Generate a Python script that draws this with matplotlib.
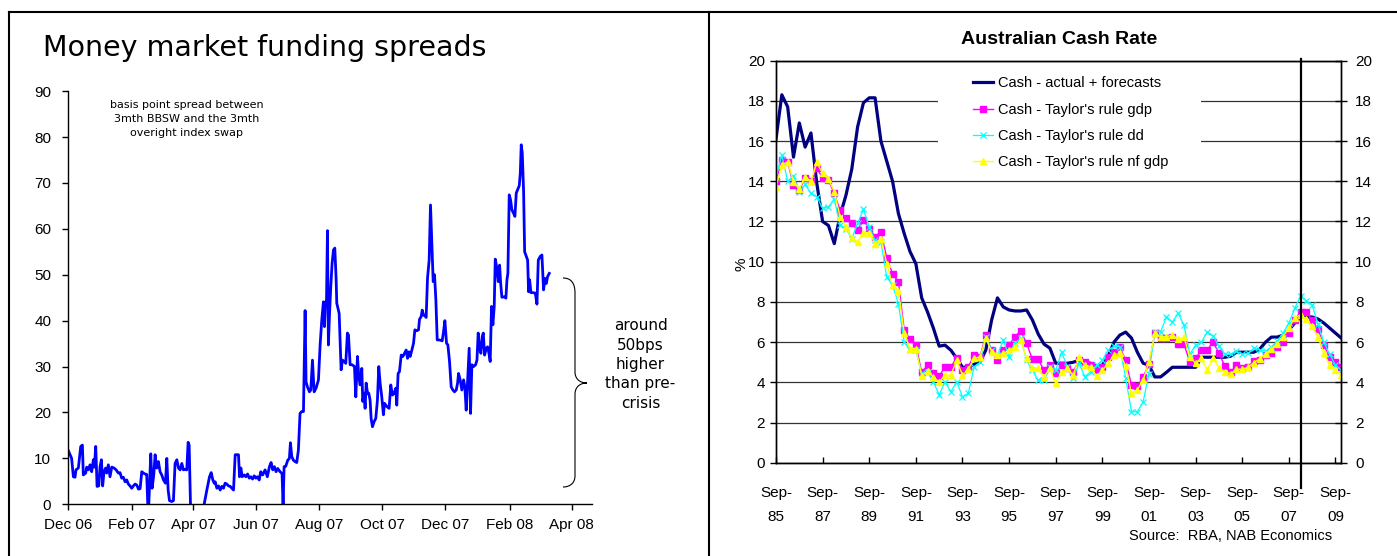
import numpy as np
import pandas as pd
import matplotlib
matplotlib.use("Agg")
import matplotlib.pyplot as plt
from matplotlib import font_manager
from matplotlib.patches import Rectangle, PathPatch
from matplotlib.path import Path
from matplotlib.lines import Line2D

# ---------------- Money market funding spreads (bps) ----------------
spread_start = "2006-12-01"
spread_day = [
    0.4, 3.6, 5.3, 6.9, 7.8, 10.1, 12.4, 14.0, 14.9, 17.2, 18.2, 19.8, 21.4, 23.0, 24.6,
    25.6, 26.9, 28.2, 29.8, 31.1, 32.4, 33.6, 34.9, 36.5, 37.5, 39.1, 40.7, 42.4, 44.6,
    46.6, 48.8, 50.4, 52.0, 53.6, 55.3, 56.9, 58.5, 60.1, 61.7, 63.3, 64.9, 66.6, 68.2,
    69.8, 71.4, 73.0, 74.6, 76.2, 77.2, 78.2, 80.1, 81.4, 83.0, 84.3, 85.9, 87.5, 89.1,
    90.7, 92.4, 94.3, 95.6, 96.9, 98.2, 100.4, 102.0, 103.6, 105.3, 106.9, 108.5, 110.1,
    111.7, 113.3, 114.9, 116.2, 117.2, 118.5, 125.0, 131.7, 134.3, 136.9, 138.5, 140.1,
    141.4, 142.4, 144.0, 145.6, 147.2, 148.8, 150.4, 152.0, 153.6, 155.3, 156.9, 158.5,
    160.1, 161.7, 164.9, 165.9, 167.2, 168.5, 170.5, 172.1, 173.7, 175.3, 176.9, 178.5,
    180.1, 181.7, 183.3, 184.9, 186.4, 188.3, 190.6, 192.8, 194.8, 196.4, 198.0, 199.6,
    201.2, 202.8, 205.1, 207.0, 208.0, 209.0, 210.6, 212.5, 214.1, 215.1, 216.4, 218.0,
    219.6, 221.2, 222.8, 224.4, 226.0, 227.7, 229.3, 230.2, 231.5, 233.5, 234.8, 236.4,
    238.0, 239.9, 242.2, 243.8, 245.4, 247.0, 248.0, 249.0, 249.9, 250.9, 251.8, 252.8,
    254.1, 255.4, 256.7, 258.0, 259.3, 259.9, 262.2, 264.1, 265.4, 267.3, 268.6, 270.2,
    271.2, 272.8, 274.7, 277.0, 278.3, 279.9, 281.2, 282.5, 284.1, 285.0, 286.3, 287.3,
    288.3, 289.6, 290.8, 292.1, 293.1, 294.4, 296.0, 297.6, 299.2, 300.5, 301.8, 303.4,
    305.0, 306.0, 308.3, 310.5, 312.1, 313.7, 315.4, 317.0, 317.9, 319.2, 320.5, 322.2,
    323.8, 325.4, 327.0, 328.3, 329.6, 330.9, 332.5, 334.1, 335.4, 337.3, 338.9, 339.9,
    341.5, 342.5, 343.8, 345.4, 346.3, 347.6, 349.2, 350.5, 351.8, 353.1, 354.4, 355.7,
    357.0, 359.2, 361.8, 363.1, 364.4, 366.0, 367.3, 368.9, 370.5, 372.1, 373.7, 375.4,
    376.7, 377.6, 379.2, 380.8, 382.5, 383.7, 385.0, 386.3, 387.9, 389.2, 390.5, 392.1,
    394.1, 395.4, 396.6, 397.9, 399.2, 400.5, 401.5, 402.8, 404.4, 405.7, 407.0, 408.2,
    409.5, 410.8, 412.1, 413.1, 414.7, 416.0, 417.3, 418.2, 419.5, 421.8, 423.4, 424.4,
    425.3, 426.6, 427.9, 429.2, 430.8, 432.1, 433.4, 434.7, 436.3, 437.3, 438.2, 439.2,
    440.5, 441.5, 443.1, 444.4, 445.3, 446.3, 447.6, 449.5, 451.8, 453.4, 454.7, 456.6,
    458.2, 459.8, 461.1, 462.4, 463.7, 465.3,
]
spread_bps = [
    11.7, 10.0, 6.0, 5.9, 7.5, 7.9, 12.6, 12.9, 6.4, 6.8, 8.1, 7.5, 8.6, 7.1, 9.7,
    8.1, 12.6, 3.9, 4.0, 8.2, 9.7, 4.0, 7.1, 7.9, 6.8, 8.6, 6.0, 8.1, 7.9,
    7.5, 6.8, 6.9, 5.7, 5.9, 4.9, 5.3, 4.4, 4.0, 3.5, 4.0, 4.4, 4.2, 3.3,
    3.4, 7.1, 6.8, 6.6, 6.5, 0.0, 0.0, 11.0, 3.5, 6.4, 10.8, 7.9, 9.3, 7.1,
    6.4, 5.3, 4.6, 10.0, 3.1, 0.8, 0.6, 0.8, 8.9, 9.7, 7.9, 7.5, 8.9,
    7.5, 7.6, 7.5, 13.5, 12.9, 0.0, np.nan, 0.0, 3.1, 6.0, 6.9, 5.3,
    4.6, 4.9, 3.5, 4.0, 3.1, 3.9, 3.5, 4.6, 4.4, 4.0, 3.9, 3.5,
    3.1, 10.8, 10.8, 6.0, 7.9, 6.0, 6.4, 6.0, 6.6, 5.7, 6.0, 5.5,
    6.2, 5.7, 6.0, 5.3, 7.1, 6.4, 7.5, 6.0, 8.2, 9.1, 7.5, 8.2,
    7.1, 7.8, 7.1, 6.7, 0.0, 8.2, 8.3, 9.6, 10.0, 13.4, 10.4, 9.6,
    9.3, 9.1, 11.8, 19.8, 20.2, 20.2, 42.2, 26.7, 25.6, 24.5, 24.9, 31.4,
    24.5, 25.3, 27.1, 34.7, 40.1, 44.1, 38.7, 44.1, 43.1, 59.6, 34.7, 40.9,
    47.4, 52.5, 55.4, 55.8, 48.9, 43.8, 41.6, 29.3, 31.4, 31.1, 30.7, 37.3,
    36.9, 30.4, 30.4, 30.0, 23.4, 32.2, 27.8, 26.0, 29.6, 22.4, 24.2, 20.9,
    26.4, 24.2, 24.2, 22.7, 18.7, 16.9, 18.0, 18.7, 22.7, 30.0, 26.4, 23.4,
    19.5, 22.0, 21.3, 20.9, 26.0, 23.8, 24.2, 25.3, 21.6, 28.5, 28.9, 32.5,
    32.2, 32.9, 33.6, 31.8, 33.2, 32.2, 33.6, 35.1, 38.0, 37.8, 38.0, 40.3,
    40.9, 42.3, 41.2, 41.0, 40.7, 49.2, 53.2, 65.2, 56.8, 48.5, 50.0, 44.5,
    35.8, 35.8, 35.6, 37.6, 40.0, 35.1, 34.7, 31.1, 25.6, 24.9, 24.5, 24.9,
    26.4, 28.5, 27.1, 24.9, 27.1, 25.6, 20.5, 26.4, 34.0, 19.8, 30.4, 30.0,
    30.4, 31.4, 37.3, 34.0, 32.9, 36.5, 37.3, 32.5, 34.0, 34.3, 32.9, 31.1,
    43.1, 39.1, 43.1, 53.4, 51.4, 48.5, 52.1, 48.5, 45.1, 45.2, 44.9, 48.9,
    50.3, 67.4, 66.3, 64.1, 63.4, 62.7, 67.8, 68.5, 69.4, 72.1, 78.3, 76.5,
    68.1, 55.0, 54.0, 53.2, 46.3, 48.9, 46.1, 46.1, 46.0, 43.6, 53.2, 54.0,
    54.3, 46.7, 49.2, 48.1, 49.6, 50.3,
]
spread_ticks = pd.date_range("2006-12-01", "2008-04-01", freq="2MS")
spread_yticks = list(range(0, 91, 10))

# ---------------- Australian cash rate (%), quarterly from Sep-85 ----------------
first_quarter = "1985Q3"
cash_actual = [
    16.1, 18.3, 17.7, 15.2, 16.9, 15.7, 16.4, 13.9, 12.0, 11.8, 10.9, 12.3, 13.3, 14.6,
    16.7, 17.9, 18.15, 18.15, 16.0, 15.0, 14.0, 12.4, 11.4, 10.5, 9.9, 8.2, 7.5, 6.7,
    5.8, 5.85, 5.6, 5.2, 4.75, 4.75, 4.9, 5.0, 5.6, 7.1, 8.2, 7.75, 7.6, 7.55, 7.55, 7.6,
    7.1, 6.4, 5.9, 5.7, 4.95, 4.95, 4.95, 5.0, 5.1, 5.0, 4.95, 4.8, 4.85, 5.3, 6.0, 6.35,
    6.5, 6.2, 5.5, 4.95, 4.85, 4.27, 4.27, 4.5, 4.75, 4.75, 4.75, 4.75, 4.75, 5.25, 5.25,
    5.25, 5.25, 5.25, 5.3, 5.5, 5.5, 5.5, 5.5, 5.65, 6.0, 6.25, 6.25, 6.35, 6.6, 6.95,
    7.25, 7.25, 7.25, 7.15, 6.95, 6.7, 6.45, 6.2,
]
taylor_gdp = [
    14.0, 15.05, 14.97, 13.8, 13.55, 14.15, 14.0, 14.65, 14.15, 14.05, 13.4, 12.55, 12.15,
    11.9, 11.6, 12.05, 11.65, 11.25, 11.5, 10.2, 9.4, 9.0, 6.6, 6.15, 5.85, 4.5, 4.85,
    4.45, 4.3, 4.78, 4.78, 5.2, 4.6, 4.78, 5.36, 5.27, 6.35, 5.6, 5.1, 5.6, 5.85, 6.27,
    6.57, 5.94, 5.14, 5.14, 4.6, 4.86, 4.45, 4.86, 4.7, 4.53, 5.1, 5.0, 4.86, 4.6, 4.78,
    5.27, 5.52, 5.75, 5.1, 3.86, 3.8, 4.28, 4.9, 6.43, 6.19, 6.2, 6.28, 5.9, 5.9, 5.02,
    5.2, 5.6, 5.6, 6.02, 5.44, 4.82, 4.5, 4.86, 4.7, 4.78, 5.05, 5.1, 5.35, 5.44, 5.77,
    6.02, 6.45, 7.1, 7.5, 7.48, 7.1, 6.65, 5.85, 5.27, 5.0, 4.78,
]
taylor_dd = [
    14.22, 15.3, 14.0, 14.27, 13.48, 13.84, 13.4, 13.23, 12.65, 12.73, 13.1, 11.82, 11.65,
    11.15, 11.9, 12.6, 11.73, 11.07, 11.0, 9.24, 8.83, 7.92, 6.0, 5.6, 5.6, 4.45, 4.5,
    4.03, 3.37, 4.03, 3.53, 4.03, 3.28, 3.45, 4.78, 5.0, 6.27, 5.6, 5.36, 6.1, 5.27, 5.94,
    6.19, 5.1, 4.6, 4.1, 4.1, 4.78, 4.6, 5.5, 4.78, 4.2, 4.94, 4.28, 4.53, 4.86, 5.1,
    5.6, 5.8, 5.77, 4.2, 2.54, 2.54, 3.03, 4.44, 6.52, 6.52, 7.26, 7.0, 7.43, 6.85, 5.4,
    5.85, 6.0, 6.5, 6.3, 5.8, 5.4, 5.4, 5.55, 5.4, 5.45, 5.7, 5.6, 5.55, 5.77, 6.05,
    6.45, 6.95, 7.68, 8.29, 8.06, 7.84, 6.9, 6.0, 5.4, 4.86, 4.61,
]
taylor_nfgdp = [
    13.73, 14.8, 14.97, 13.98, 13.6, 14.22, 14.0, 14.94, 14.39, 14.1, 13.48, 12.23, 11.73,
    11.19, 10.99, 11.45, 11.45, 10.9, 11.15, 9.91, 8.83, 8.53, 6.47, 5.68, 5.68, 4.33,
    4.55, 4.25, 4.03, 4.36, 4.36, 5.1, 4.36, 4.64, 5.19, 5.27, 6.19, 5.52, 5.36, 5.44,
    5.6, 5.77, 6.1, 5.19, 4.69, 4.69, 4.28, 4.69, 3.95, 4.53, 4.69, 4.36, 5.24, 4.86,
    4.78, 4.31, 4.61, 4.94, 5.36, 5.44, 4.81, 3.45, 3.62, 4.11, 5.02, 6.43, 6.27, 6.27,
    6.35, 6.15, 6.25, 5.27, 4.96, 5.2, 4.62, 5.2, 4.73, 4.53, 4.44, 4.65, 4.65, 4.75,
    4.98, 5.18, 5.4, 5.65, 5.93, 6.27, 6.7, 7.22, 7.35, 7.14, 6.79, 6.27, 5.48, 4.86,
    4.61, 4.36,
]
forecast_start = 90.1  # quarter position where the forecast period begins
cash_yticks = list(range(0, 21, 2))

series_labels = [
    "Cash - actual + forecasts",
    "Cash - Taylor's rule gdp",
    "Cash - Taylor's rule dd",
    "Cash - Taylor's rule nf gdp",
]

# ---------------- fonts ----------------
installed = {f.name for f in font_manager.fontManager.ttflist}
HAS_NARROW = "Liberation Sans Narrow" in installed
NARROW = "Liberation Sans Narrow" if HAS_NARROW else "Liberation Sans"
TICK_SIZE = 12.5 if HAS_NARROW else 11
LEG_SIZE = 12.5 if HAS_NARROW else 10.5
ARIAL = "Liberation Sans"
WIDE = "DejaVu Sans"

W, H = 1397, 556
fig = plt.figure(figsize=(W / 100, H / 100), dpi=100)


def fx(px):
    return px / W


def fy(py):
    return 1 - py / H


# panel frames
frame_kw = dict(color="black", lw=1.5, solid_capstyle="projecting")
fig.add_artist(Line2D([fx(9), 1.0], [fy(11.7), fy(11.7)], **frame_kw))
fig.add_artist(Line2D([fx(9), fx(9)], [0, fy(11.7)], **frame_kw))
fig.add_artist(Line2D([fx(709), fx(709)], [0, fy(11.7)], **frame_kw))

# ================= left panel =================
ax1 = fig.add_axes([fx(67.9), fy(504.3), fx(592.4) - fx(67.9), fy(91.1) - fy(504.3)])
start = pd.Timestamp(spread_start)
spread_dates = start + pd.to_timedelta(spread_day, unit="D")
ax1.plot(spread_dates, spread_bps, color="#0000FF", lw=2.0)
ax1.set_xlim(start, start + pd.Timedelta(days=507))
ax1.set_ylim(0, 90)
ax1.set_yticks(spread_yticks)
ax1.set_xticks(spread_ticks)
ax1.set_xticklabels([d.strftime("%b %y") for d in spread_ticks])
for s in ("top", "right"):
    ax1.spines[s].set_visible(False)
for s in ("left", "bottom"):
    ax1.spines[s].set_linewidth(1.0)
ax1.tick_params(axis="both", direction="out", length=4, width=1.0, labelsize=11)
ax1.tick_params(axis="y", pad=8)
ax1.tick_params(axis="x", pad=6)
for lab in ax1.get_xticklabels() + ax1.get_yticklabels():
    lab.set_family(ARIAL)

fig.text(fx(43), fy(56), "Money market funding spreads", fontsize=20.5,
         family=WIDE, ha="left", va="baseline")
fig.text(fx(186.6), fy(118.5),
         "basis point spread between\n3mth BBSW and the 3mth\noveright index swap",
         fontsize=8, family=WIDE, ha="center", va="center", linespacing=1.5)
fig.text(fx(640.6), fy(364.5), "around\n50bps\nhigher\nthan pre-\ncrisis",
         fontsize=11, family=WIDE, ha="center", va="center", linespacing=1.36)

# curly brace beside the recent readings
brace_px = [
    (563, 278), (571, 278), (575, 283), (575, 293),
    (575, 372),
    (575, 378), (579, 383), (587, 383),
    (579, 383), (575, 388), (575, 394),
    (575, 476),
    (575, 482), (571, 487), (563, 487),
]
brace_codes = [Path.MOVETO, Path.CURVE4, Path.CURVE4, Path.CURVE4, Path.LINETO,
               Path.CURVE4, Path.CURVE4, Path.CURVE4, Path.CURVE4, Path.CURVE4, Path.CURVE4,
               Path.LINETO, Path.CURVE4, Path.CURVE4, Path.CURVE4]
brace = Path([(fx(x), fy(y)) for x, y in brace_px], brace_codes)
fig.add_artist(PathPatch(brace, transform=fig.transFigure, facecolor="none",
                         edgecolor="black", lw=0.8))

# ================= right panel =================
ax2 = fig.add_axes([fx(776), fy(462.8), fx(1341.3) - fx(776), fy(60.6) - fy(462.8)])
quarters = pd.period_range(first_quarter, periods=len(cash_actual), freq="Q")
q = np.arange(len(quarters))

ax2.plot(q, cash_actual, color="#000080", lw=2.3, zorder=3, label=series_labels[0])
ax2.plot(q, taylor_gdp, color="#FF00FF", lw=1.0, marker="s", ms=4.6, mec="#FF00FF",
         zorder=4, label=series_labels[1])
ax2.plot(q, taylor_dd, color="#00FFFF", lw=0.9, marker="x", ms=5, mew=0.9,
         zorder=5, label=series_labels[2])
ax2.plot(q, taylor_nfgdp, color="#FFFF00", lw=1.0, marker="^", ms=5, mec="#FFFF00",
         zorder=6, label=series_labels[3])
ax2.plot([forecast_start, forecast_start], [-1.23, 20.1], color="black", lw=1.6,
         clip_on=False, zorder=7)

ax2.set_xlim(0, len(q) - 1)
ax2.set_ylim(0, 20)
ax2.set_yticks(cash_yticks)
tick_pos = q[::8]
ax2.set_xticks(tick_pos)
ax2.set_xticklabels([f"{quarters[i].end_time.strftime('%b')}-\n{quarters[i].year % 100:02d}"
                     for i in tick_pos])
ax2.set_axisbelow(True)
ax2.grid(axis="y", color="#333333", lw=0.9)
ax2.grid(axis="x", visible=False)
for s in ax2.spines.values():
    s.set_linewidth(1.0)
ax2.tick_params(axis="x", direction="in", length=4, width=1.0, pad=17, labelsize=TICK_SIZE)
ax2.tick_params(axis="y", direction="out", length=4, width=1.0, pad=4, labelsize=TICK_SIZE)
for lab in ax2.get_xticklabels():
    lab.set_family(NARROW)
    lab.set_linespacing(1.85)
for lab in ax2.get_yticklabels():
    lab.set_family(NARROW)

ax2r = ax2.twinx()
ax2r.set_ylim(0, 20)
ax2r.set_yticks(cash_yticks)
ax2r.tick_params(axis="y", direction="inout", length=8, width=1.0, pad=6, labelsize=TICK_SIZE)
for lab in ax2r.get_yticklabels():
    lab.set_family(NARROW)
for s in ax2r.spines.values():
    s.set_linewidth(1.0)

# white backing behind the legend interrupts the gridlines
ax2.add_patch(Rectangle((0.2866, 0.72), 0.752 - 0.2866, 0.974 - 0.72,
                        transform=ax2.transAxes, facecolor="white",
                        edgecolor="none", zorder=1))
ax2.legend(loc="center left", bbox_to_anchor=(0.3485, 0.8452), frameon=False,
           borderpad=0, borderaxespad=0, handlelength=1.4, handletextpad=0.3,
           labelspacing=0.84, prop={"family": NARROW, "size": LEG_SIZE})

fig.text(fx(1059), fy(39.7), "Australian Cash Rate", fontsize=17 if HAS_NARROW else 14,
         family=NARROW, weight="bold", ha="center", va="center")
fig.text(fx(742), fy(264), "%", fontsize=TICK_SIZE, family=NARROW, rotation=90,
         ha="center", va="center")
fig.text(fx(1332), fy(535.5), "Source:  RBA, NAB Economics", fontsize=LEG_SIZE,
         family=NARROW, ha="right", va="center")

fig.savefig("out.png", dpi=100)
